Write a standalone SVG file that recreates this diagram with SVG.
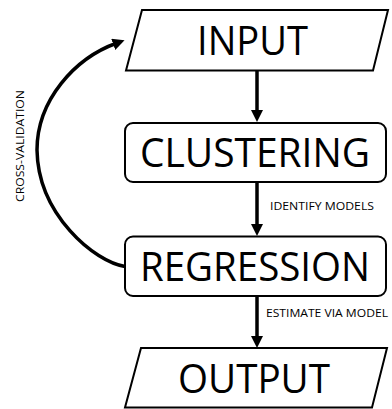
<svg xmlns="http://www.w3.org/2000/svg" width="392" height="409" viewBox="0 0 392 409">
<style>
.shape{fill:#fff;stroke:#000;stroke-width:2}
.big{font-family:"Open Sans","Liberation Sans",sans-serif;font-size:40px;fill:#000;text-anchor:middle}
.small{font-family:"Open Sans","Liberation Sans",sans-serif;font-size:11.5px;fill:#000}
.conn{fill:none;stroke:#000;stroke-width:3.5;marker-end:url(#ah)}
</style>
<defs>
<marker id="ah" markerUnits="userSpaceOnUse" markerWidth="12" markerHeight="12" refX="4" refY="6" orient="auto">
<path d="M0,0 L12,6 L0,12 z" fill="#000"/>
</marker>
</defs>
<rect width="392" height="409" fill="#fff"/>
<g id="connectors">
<path class="conn" d="M257,70.5 L257,114"/>
<path class="conn" d="M257,182 L257,228"/>
<path class="conn" d="M257,296 L257,340"/>
<path class="conn" d="M125,266.5 C95,262 38,215 37,150 C37,100 75,58 117,43"/>
<text class="small" x="270" y="210" textLength="104" lengthAdjust="spacingAndGlyphs">IDENTIFY MODELS</text>
<text class="small" x="266" y="317" textLength="122" lengthAdjust="spacingAndGlyphs">ESTIMATE VIA MODEL</text>
<text class="small" transform="translate(23.5,146) rotate(-90)" x="0" y="0" text-anchor="middle" textLength="112" lengthAdjust="spacingAndGlyphs">CROSS-VALIDATION</text>
</g>
<g id="input">
<polygon class="shape" points="142,10 388,10 373,70.5 126,70.5"/>
<text class="big" x="252.5" y="55" textLength="111" lengthAdjust="spacingAndGlyphs">INPUT</text>
</g>
<g id="clustering">
<rect class="shape" x="125" y="123" width="261" height="59" rx="8" ry="8"/>
<text class="big" x="255" y="167" textLength="230" lengthAdjust="spacingAndGlyphs">CLUSTERING</text>
</g>
<g id="regression">
<rect class="shape" x="125" y="236.5" width="261" height="59.5" rx="8" ry="8"/>
<text class="big" x="255" y="281" textLength="230" lengthAdjust="spacingAndGlyphs">REGRESSION</text>
</g>
<g id="output">
<polygon class="shape" points="141,348 387,348 372,407.5 125,407.5"/>
<text class="big" x="254" y="392.5" textLength="152" lengthAdjust="spacingAndGlyphs">OUTPUT</text>
</g>
</svg>
